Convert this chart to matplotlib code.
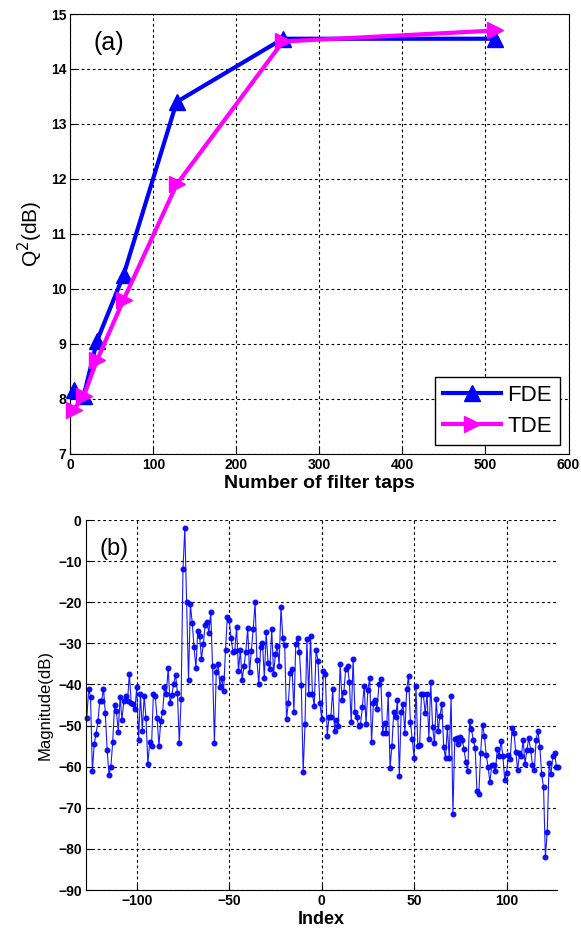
import matplotlib
matplotlib.use('Agg')

import matplotlib.pyplot as plt
import numpy as np

plt.rcParams['font.family'] = ['Liberation Sans', 'DejaVu Sans']

# panel (a): Q^2 vs number of taps
taps = [4, 16, 32, 64, 128, 256, 512]
q2_fde = [8.15, 8.05, 9.05, 10.25, 13.4, 14.55, 14.55]
q2_tde = [7.8, 8.05, 8.7, 9.8, 11.9, 14.5, 14.7]

# panel (b): tap magnitude in dB, index -127 .. 128
mag_db = [
    -48.2, -41, -43, -61, -54.5, -52, -49, -44, -44, -41,
    -47, -56, -62, -60, -54, -45, -46.5, -51.5, -43, -48.6,
    -44, -42.8, -44.1, -37.4, -44.4, -44.8, -46, -40.7, -53.6, -42.3,
    -51.3, -42.8, -48.2, -59.3, -54, -55, -42.3, -42.8, -48.2, -55,
    -48.8, -46.7, -40.7, -42.3, -36, -44.5, -42.5, -39.8, -37.7, -42,
    -54.3, -43.6, -12, -2, -20, -39, -20.5, -25, -31, -36,
    -27, -28.3, -33.8, -30.2, -25.5, -24.7, -27.5,
    -22.4, -35.6, -54.3, -37, -35, -40.5, -38.5, -41.5, -31.6, -23.6,
    -24.3, -28.7, -32, -31.8, -26, -36.7, -31.6, -39, -35.5, -32,
    -26.3, -37, -31.8, -26.5, -20, -34, -40, -30.8, -29.8, -38.5,
    -27.3, -34.7, -36.2, -26.5, -37.4, -32.6, -30.6, -35.4, -21.2, -28.7,
    -30.4, -48.4, -44.4, -37.2, -36.2, -46.6, -30.2, -28.7, -32.2, -40.2,
    -61.4, -49.6, -29, -42.3, -28.2, -42.3, -45.2, -31.6, -34.3, -44.4,
    -48.3, -36.8, -37.4, -52.5, -47.8,
    -47.8, -41.1, -51.4, -48.6, -50, -35, -43.7, -41.9, -36.3, -35.5,
    -39.5, -49.2, -33.8, -46.6, -48, -50, -49.8, -45.6, -40.3, -49.6,
    -41.3, -38.5, -54, -44.4, -43.7, -45.9, -39.9, -38.7, -51.7, -49.4,
    -51.8, -42.3, -60.3, -54.9, -46.6, -48, -43.9, -62.2, -46.8, -44.7,
    -51.8, -41.1, -38, -49.2, -53.3, -57.9, -40.3, -54.9, -54.7, -42.3,
    -42.4, -47, -42.3, -53.3, -39.5, -50.4, -54.3, -43.6, -51.4, -47.6,
    -44.8, -55.3, -57.9, -50.4, -58, -42.9,
    -71.5, -53.3, -53, -54.5, -52.7, -53.5, -55.8, -58.9, -61, -49,
    -50.9, -53.5, -55.4, -65.9, -66.7, -56.6, -49.8, -52.5, -57.1, -60.2,
    -63.8, -59.5, -59.5, -61.1, -55.7, -57.5, -53.8, -57.3, -63.2, -61.5,
    -57.2, -58.1, -50.6, -51.9, -56.4, -60.9, -56.7, -57.3, -53.6, -59.3,
    -56, -53, -55.9, -59.5, -60.7, -53.4, -51.4, -55.3, -61.9, -64.9,
    -81.9, -75.9, -59.1, -61.9, -57.5, -56.7, -60.1, -60.1,
]
index = np.arange(len(mag_db)) - 127

fig = plt.figure(figsize=(5.81, 9.34), dpi=100)

W, H = 581.0, 934.0
ax1 = fig.add_axes([70.4 / W, 1 - 453.7 / H, (568.5 - 70.4) / W, (453.7 - 14) / H])
ax2 = fig.add_axes([85.9 / W, 1 - 890 / H, (557.4 - 85.9) / W, (890 - 520) / H])

grid_kw = dict(color='black', linestyle=(0, (2.5, 2.5)), linewidth=0.8)

# --- (a)
ax1.plot(taps, q2_fde, color='blue', lw=3, marker='^', ms=11, label='FDE', clip_on=False, zorder=3)
ax1.plot(taps, q2_tde, color='magenta', lw=3, marker='>', ms=11, label='TDE', clip_on=False, zorder=3)
ax1.set_xlim(0, 600)
ax1.set_ylim(7, 15)
ax1.set_xticks(range(0, 601, 100))
ax1.set_yticks(range(7, 16))
ax1.grid(True, **grid_kw)
ax1.tick_params(direction='in', length=4, labelsize=10, pad=3)
for lab in ax1.get_xticklabels() + ax1.get_yticklabels():
    lab.set_fontweight('bold')
ax1.set_xlabel('Number of filter taps', fontsize=14, fontweight='bold', labelpad=2)
ax1.set_ylabel('Q$^2$(dB)', fontsize=15, labelpad=4)
ax1.text(28, 14.35, '(a)', fontsize=18)
leg = ax1.legend(loc='lower right', fontsize=16, handlelength=2.6, fancybox=False,
                 edgecolor='black', framealpha=1, borderpad=0.35, labelspacing=0.45,
                 handletextpad=0.3, borderaxespad=0.4)
leg.get_frame().set_linewidth(1.0)

# --- (b)
ax2.plot(index, mag_db, color='blue', lw=0.8, marker='o', ms=3.3, alpha=0.9, clip_on=False)
ax2.set_xlim(-127.5, 127.5)
ax2.set_ylim(-90, 0)
ax2.set_xticks([-100, -50, 0, 50, 100])
ax2.set_yticks(range(-90, 1, 10))
ax2.grid(True, **grid_kw)
ax2.spines['top'].set_visible(False)
ax2.spines['right'].set_visible(False)
ax2.tick_params(direction='in', length=4, labelsize=10, pad=3)
for lab in ax2.get_xticklabels() + ax2.get_yticklabels():
    lab.set_fontweight('bold')
ax2.set_xlabel('Index', fontsize=13, fontweight='bold', labelpad=2)
ax2.set_ylabel('Magnitude(dB)', fontsize=12, labelpad=4)
ax2.text(-120, -8.5, '(b)', fontsize=17)

fig.savefig('out.png', dpi=100)
